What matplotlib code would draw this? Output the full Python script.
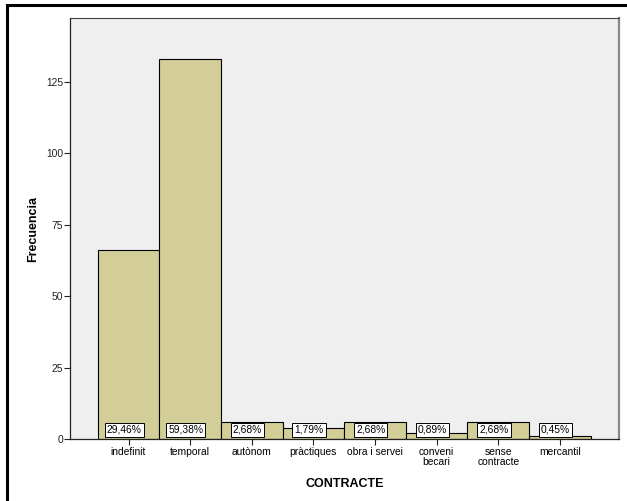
import matplotlib
matplotlib.use("Agg")
import matplotlib.pyplot as plt
from matplotlib.patches import Rectangle

categories = ["indefinit", "temporal", "autònom", "pràctiques", "obra i servei",
              "conveni\nbecari", "sense\ncontracte", "mercantil"]
counts = [66, 133, 6, 4, 6, 2, 6, 1]
percents = ["29,46%", "59,38%", "2,68%", "1,79%", "2,68%", "0,89%", "2,68%", "0,45%"]
yticks = [0, 25, 50, 75, 100, 125]

plt.rcParams["font.family"] = ["Liberation Sans", "DejaVu Sans"]

W, H = 627, 501
fig = plt.figure(figsize=(W / 100, H / 100), dpi=100)
ax = fig.add_axes([70 / W, (H - 439) / H, (619 - 70) / W, (439 - 18) / H])

# outer frame (only top and left visible)
fig.patches.append(Rectangle((7 / W, -0.1), 1.2, (H - 5) / H + 0.1, transform=fig.transFigure,
                             fill=False, edgecolor="black", linewidth=2.2))

ax.set_facecolor("#efefef")
x = list(range(len(categories)))
ax.bar(x, counts, width=1.0, color="#d3ce97", edgecolor="black", linewidth=0.8, zorder=2)

for xi, p in zip(x, percents):
    ax.annotate(p, (xi - 0.07, 0), xytext=(0, 3), textcoords="offset points",
                ha="center", va="bottom", fontsize=7.4, zorder=4,
                bbox=dict(boxstyle="square,pad=0.2", facecolor="white",
                          edgecolor="black", linewidth=0.7))

ax.set_xlim(-0.95, 7.96)
ax.set_ylim(0, 147.4)
ax.set_yticks(yticks)
ax.set_xticks(x)
ax.set_xticklabels(categories, fontsize=7.4, linespacing=1.0)
ax.tick_params(axis="y", direction="out", length=4, width=0.8, labelsize=7.4, pad=1, colors="#222222")
ax.tick_params(axis="x", direction="out", length=4, width=0.8, pad=2, colors="#222222")
ax.tick_params(axis="x", labelcolor="black")

for s in ["left", "bottom"]:
    ax.spines[s].set_color("#222222")
    ax.spines[s].set_linewidth(0.9)
ax.spines["top"].set_color("#444444")
ax.spines["top"].set_linewidth(0.8)
ax.spines["right"].set_color("#888888")
ax.spines["right"].set_linewidth(1.6)

ax.set_ylabel("Frecuencia", fontsize=9, fontweight="bold", labelpad=5)
ax.set_xlabel("CONTRACTE", fontsize=9, fontweight="bold", labelpad=8)

fig.savefig("out.png", dpi=100)
